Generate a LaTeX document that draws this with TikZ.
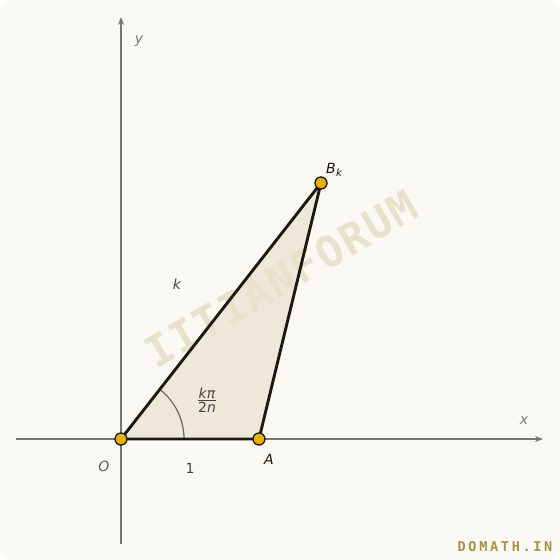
\documentclass[tikz,border=0pt]{standalone}
\usepackage{fontspec}
\setmainfont{DejaVu Sans}
\newfontfamily\wmfont[LetterSpace=5]{DejaVu Sans Mono Bold}
\newfontfamily\brandfont[LetterSpace=20]{DejaVu Sans Mono Bold}
\usetikzlibrary{arrows.meta}
\definecolor{bgc}{HTML}{F9F8F3}
\definecolor{axisc}{HTML}{777770}
\definecolor{fillc}{HTML}{EDE8DA}
\definecolor{edgec}{HTML}{1C1A10}
\definecolor{ptc}{HTML}{E8B000}
\definecolor{wmc}{HTML}{E8E1CB}
\definecolor{brandc}{HTML}{A8913F}
\definecolor{lblc}{HTML}{444444}
\tikzset{
  axis/.style={draw=axisc, line width=1.1pt, -{Stealth[length=8pt,width=6pt]}},
  edge/.style={draw=edgec, line width=2.9pt, line join=round},
  pt/.style={circle, draw=edgec, fill=ptc, line width=1.3pt, minimum size=12pt, inner sep=0pt},
  lbl/.style={font=\fontsize{14}{16}\selectfont\itshape, text=edgec, inner sep=1pt},
  glbl/.style={font=\fontsize{14}{16}\selectfont, text=lblc, inner sep=1pt},
}
\begin{document}
\begin{tikzpicture}[x=1pt,y=-1pt]
\fill[white] (0,0) rectangle (560,560);
\fill[bgc] (0,0) [rounded corners=14pt] rectangle (560,560);
\useasboundingbox (0,0) rectangle (560,560);
% axes
\coordinate (xs) at (16,439);
\coordinate (xe) at (543,439);
\coordinate (ys) at (121,544);
\coordinate (ye) at (121,17);
\draw[axis] (xs) -- (xe);
\draw[axis] (ys) -- (ye);
% points
\coordinate (O) at (121,439);
\coordinate (A) at (259,439);
\coordinate (B) at (321,183);
\fill[fillc] (O) -- (A) -- (B) -- cycle;
% watermark
\node[text=wmc, rotate=30, font=\wmfont\fontsize{43}{46}\selectfont] (wm) at (281,279) {IITIANFORUM};
\draw[draw=axisc!90!black, line width=1.2pt] (184,439) arc[start angle=0, end angle=-52, radius=63];
\draw[edge] (O) -- (A) -- (B) -- cycle;
\node[pt] (pO) at (O) {};
\node[pt] (pA) at (A) {};
\node[pt] (pB) at (B) {};
% labels
\node[glbl, font=\fontsize{14}{16}\selectfont\itshape, text=axisc] (ly) at (139,41) {y};
\node[glbl, font=\fontsize{14}{16}\selectfont\itshape, text=axisc] (lx) at (524,421) {x};
\node[glbl, font=\fontsize{14}{16}\selectfont\itshape, text=axisc!80!black] (lO) at (104,466) {O};
\node[glbl] (l1) at (190,468) {1};
\node[lbl] (lA) at (269,459) {A};
\node[lbl] (lB) at (334,170) {B\kern0.5pt\raisebox{-3pt}{\fontsize{10}{12}\selectfont k}};
\node[glbl, font=\fontsize{14}{16}\selectfont\itshape] (lk) at (177,284) {k};
\node[glbl] (lf) at (207,402) {\begin{tabular}{@{}c@{}}\itshape kπ\\[-3pt]\hline\noalign{\vskip1pt}2\itshape n\end{tabular}};
% brand
\node[text=brandc, font=\brandfont\fontsize{13.5}{15}\selectfont] (brand) at (505,547) {DOMATH.IN};
\end{tikzpicture}
\end{document}
